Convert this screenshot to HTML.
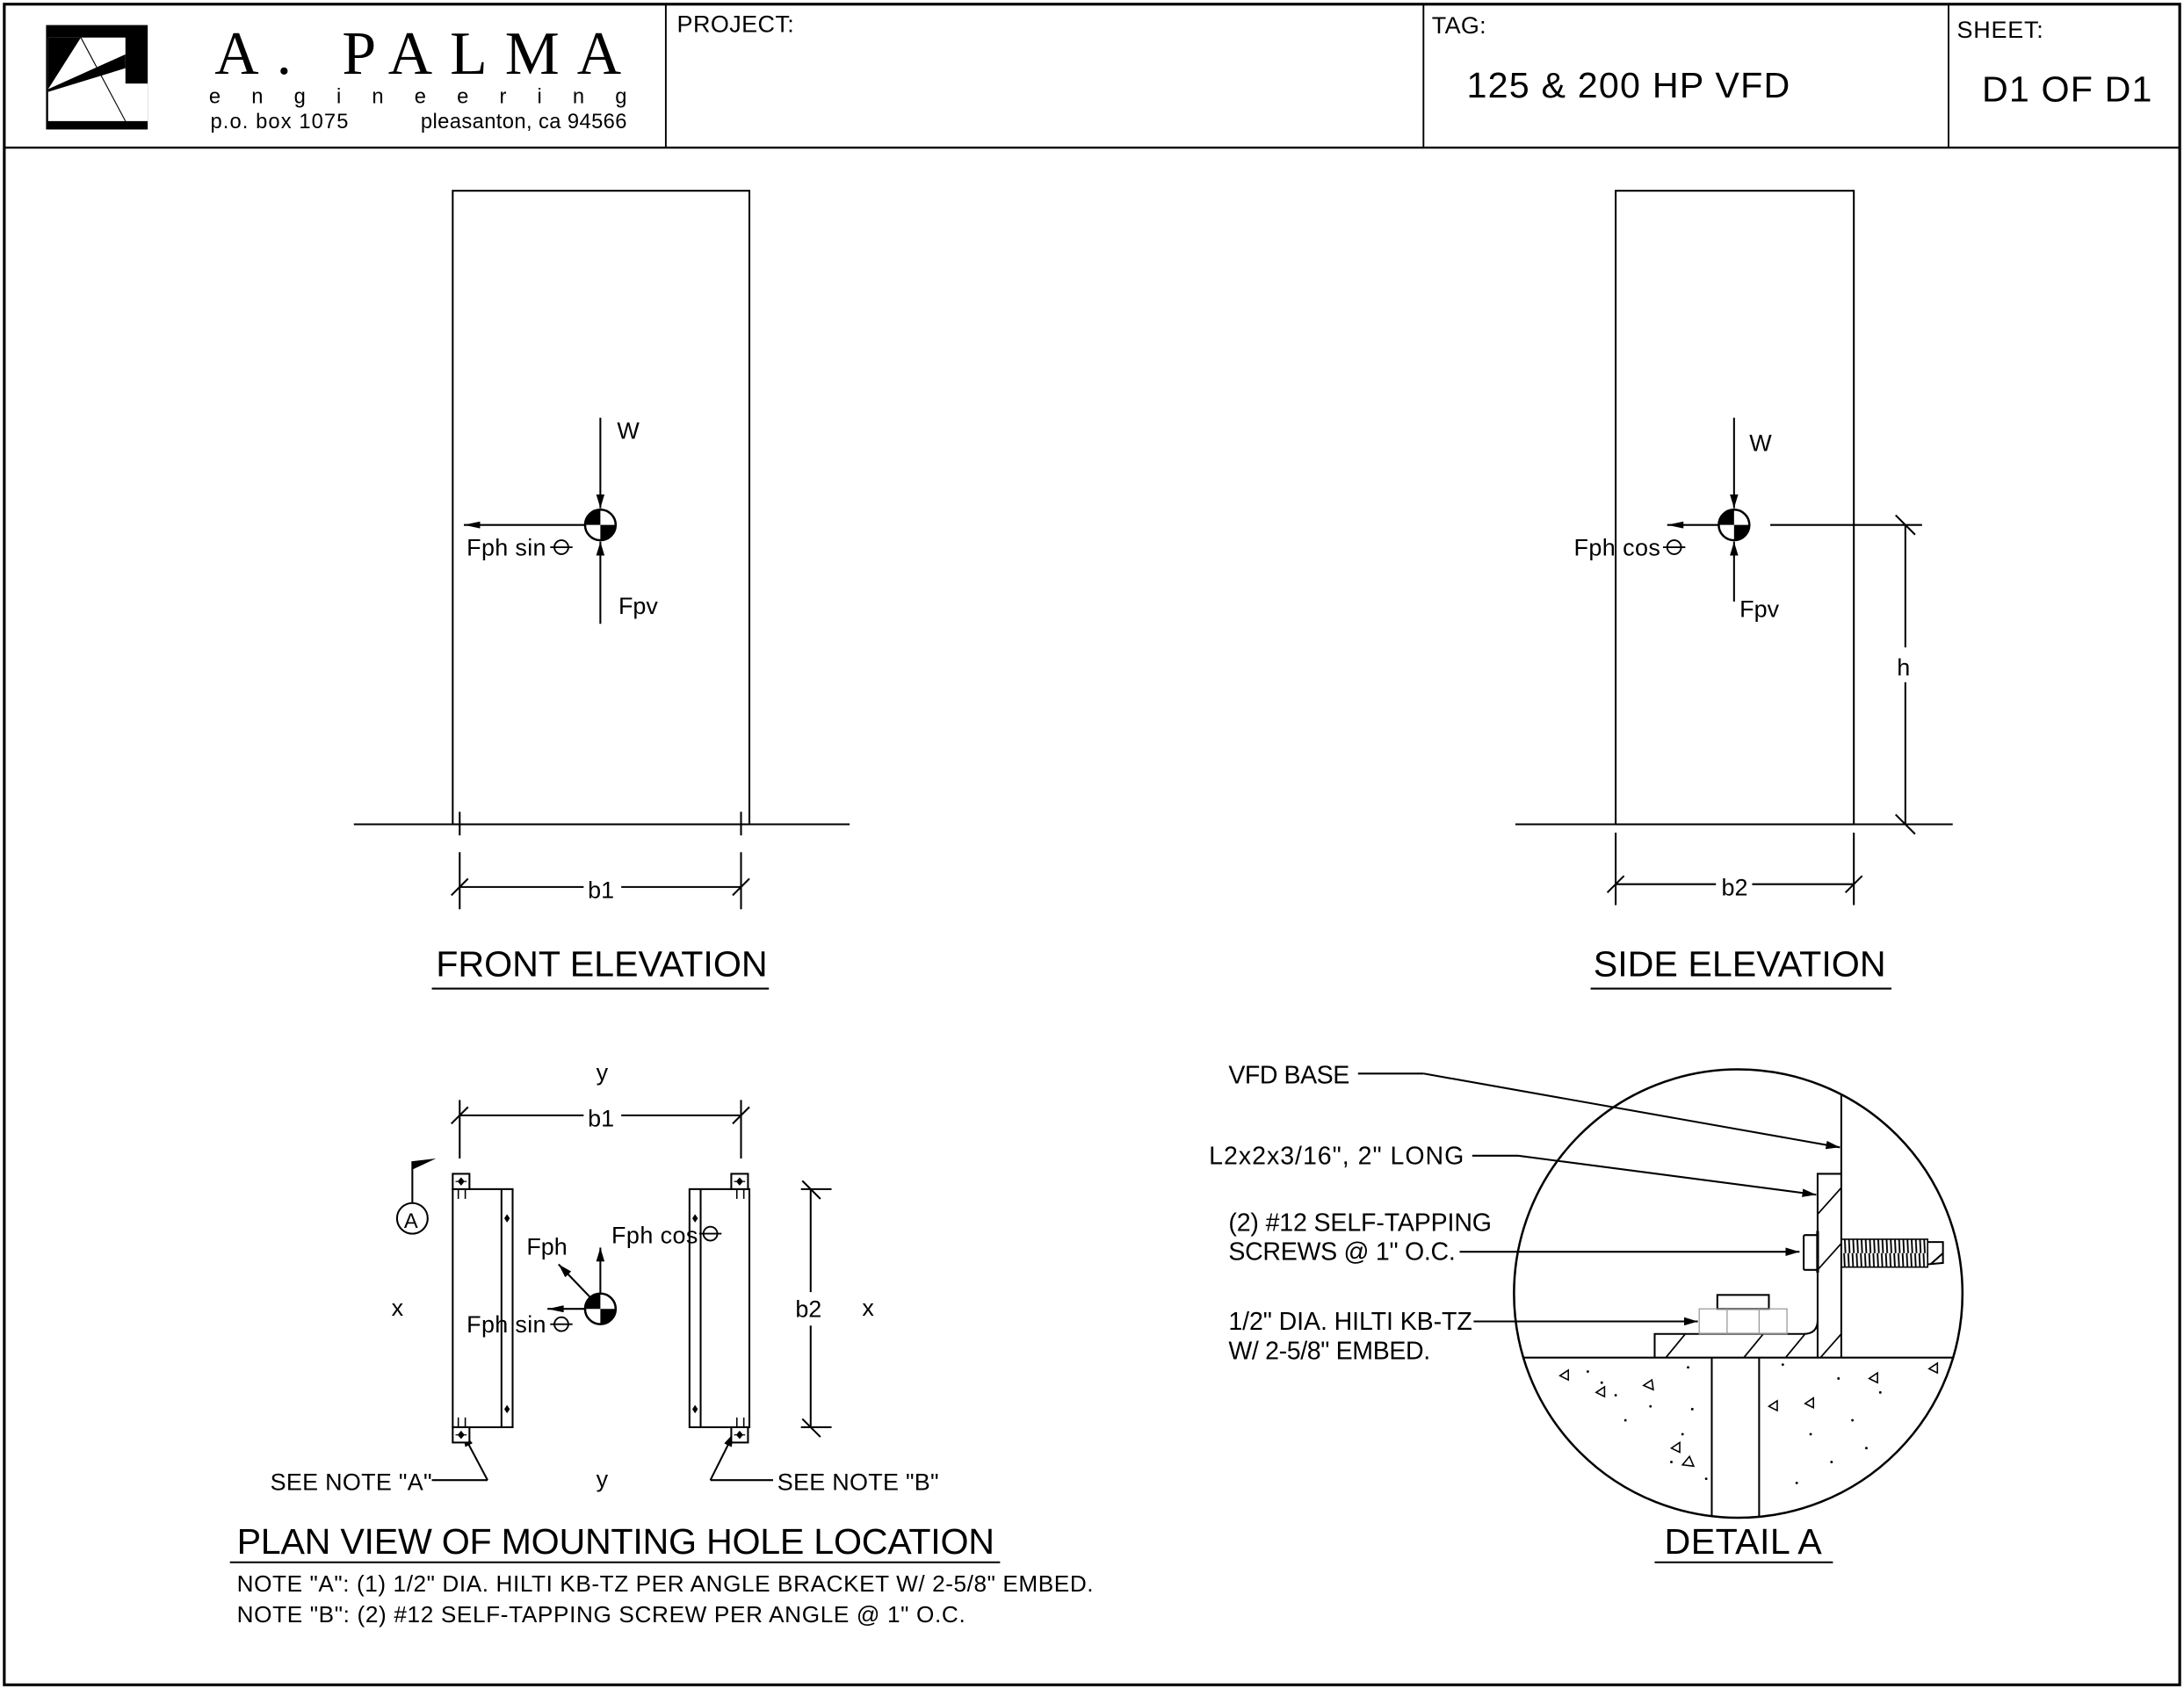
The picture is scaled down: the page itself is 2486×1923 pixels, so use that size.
<!DOCTYPE html>
<html><head><meta charset="utf-8"><style>
html,body{margin:0;padding:0;background:#fff;}
svg{display:block;}
text{font-family:"Liberation Sans",sans-serif;fill:#000;}
</style></head><body>
<svg width="2486" height="1923" viewBox="0 0 1568 1213" xmlns="http://www.w3.org/2000/svg">
<defs>
<marker id="ar" viewBox="0 0 10 6" refX="10" refY="3" markerWidth="10" markerHeight="6" markerUnits="userSpaceOnUse" orient="auto"><path d="M0,0L10,3L0,6z" fill="#000"/></marker>
<marker id="ar2" viewBox="0 0 14 6" refX="14" refY="3" markerWidth="14" markerHeight="5" markerUnits="userSpaceOnUse" orient="auto"><path d="M0,0L14,3L0,6z" fill="#000"/></marker>
<clipPath id="cc"><circle cx="1248" cy="929" r="161"/></clipPath>
<g id="cg"><circle r="11" fill="#fff" stroke="#000" stroke-width="1.6"/><path d="M0,0L-11,0A11,11 0 0 1 0,-11z M0,0L11,0A11,11 0 0 1 0,11z" fill="#000"/></g>
<g id="th"><circle r="5" fill="none" stroke="#000" stroke-width="1.2"/><line x1="-8" y1="0" x2="8" y2="0" stroke="#000" stroke-width="1.2"/></g>
<g id="sq"><rect x="0" y="0" width="12" height="11" fill="#fff" stroke="#000" stroke-width="1.3"/><path d="M6,2.5L8.5,5.5L6,8.5L3.5,5.5z" fill="#000"/><line x1="2" y1="5.5" x2="10" y2="5.5" stroke="#000" stroke-width="0.8"/></g>
<pattern id="thr" width="3" height="20" patternUnits="userSpaceOnUse"><line x1="1" y1="0" x2="2" y2="20" stroke="#000" stroke-width="1.2"/></pattern>
</defs>
<g fill="none" stroke="#000">
<rect x="3" y="3" width="1562" height="1207" stroke-width="2"/>
<line x1="3" y1="106" x2="1565" y2="106" stroke-width="1.5"/>
<line x1="478" y1="3" x2="478" y2="106" stroke-width="1.2"/>
<line x1="1022" y1="3" x2="1022" y2="106" stroke-width="1.2"/>
<line x1="1399" y1="3" x2="1399" y2="106" stroke-width="1.2"/>
</g>
<!-- logo -->
<rect x="33" y="18" width="73" height="75" fill="#000"/>
<path d="M34.5,27 L90,27 L90,60 L106,60 L106,87 L34.5,87 Z" fill="#fff"/>
<path d="M34.5,27 L58,27 L34.5,64 Z" fill="#000"/>
<path d="M34.5,64 L90,39 L90,49 L34.5,66 Z" fill="#000"/>
<line x1="58" y1="27" x2="90" y2="87" stroke="#000" stroke-width="0.7"/>
<text x="154" y="53" style="font-family:'Liberation Serif',serif" font-size="44" textLength="292" lengthAdjust="spacing">A. PALMA</text>
<text x="150" y="74" font-size="15" textLength="300" lengthAdjust="spacing">engineering</text>
<text x="151" y="92" font-size="15" textLength="99">p.o. box  1075</text>
<text x="302" y="92" font-size="15" textLength="148">pleasanton, ca 94566</text>
<text x="486" y="23" font-size="17" textLength="84">PROJECT:</text>
<text x="1028" y="24" font-size="17" textLength="39">TAG:</text>
<text x="1053" y="70" font-size="26" textLength="232">125 &amp; 200 HP VFD</text>
<text x="1405" y="27" font-size="17" textLength="62">SHEET:</text>
<text x="1423" y="73" font-size="26" textLength="122">D1 OF D1</text>

<g fill="none" stroke="#000" stroke-width="1.3">
<!-- front elevation -->
<rect x="325" y="137" width="213" height="455"/>
<line x1="254" y1="592" x2="610" y2="592"/>
<line x1="330" y1="583" x2="330" y2="600"/><line x1="330" y1="612" x2="330" y2="653"/>
<line x1="532" y1="583" x2="532" y2="600"/><line x1="532" y1="612" x2="532" y2="653"/>
<line x1="330" y1="637" x2="419" y2="637"/><line x1="446" y1="637" x2="532" y2="637"/>
<line x1="324" y1="643" x2="336" y2="631"/><line x1="526" y1="643" x2="538" y2="631"/>
<line x1="431" y1="300" x2="431" y2="365" marker-end="url(#ar)"/>
<line x1="431" y1="448" x2="431" y2="389" marker-end="url(#ar)"/>
<line x1="420" y1="377" x2="333" y2="377" marker-end="url(#ar2)"/>
<line x1="310" y1="710" x2="552" y2="710"/>
<!-- side elevation -->
<rect x="1160" y="137" width="171" height="455"/>
<line x1="1088" y1="592" x2="1402" y2="592"/>
<line x1="1160" y1="598" x2="1160" y2="650"/><line x1="1331" y1="598" x2="1331" y2="650"/>
<line x1="1160" y1="635" x2="1232" y2="635"/><line x1="1258" y1="635" x2="1331" y2="635"/>
<line x1="1154" y1="641" x2="1166" y2="629"/><line x1="1325" y1="641" x2="1337" y2="629"/>
<line x1="1245" y1="300" x2="1245" y2="365" marker-end="url(#ar)"/>
<line x1="1245" y1="432" x2="1245" y2="389" marker-end="url(#ar)"/>
<line x1="1234" y1="377" x2="1197" y2="377" marker-end="url(#ar2)"/>
<line x1="1271" y1="377" x2="1380" y2="377"/>
<line x1="1368" y1="377" x2="1368" y2="465"/><line x1="1368" y1="490" x2="1368" y2="592"/>
<line x1="1361" y1="370" x2="1375" y2="384"/><line x1="1361" y1="585" x2="1375" y2="599"/>
<line x1="1142" y1="710" x2="1358" y2="710"/>
<!-- plan view -->
<line x1="330" y1="790" x2="330" y2="832"/><line x1="532" y1="790" x2="532" y2="832"/>
<line x1="330" y1="801" x2="419" y2="801"/><line x1="446" y1="801" x2="532" y2="801"/>
<line x1="324" y1="807" x2="336" y2="795"/><line x1="526" y1="807" x2="538" y2="795"/>
<rect x="325" y="854" width="43" height="171"/><line x1="360" y1="854" x2="360" y2="1025"/>
<rect x="495" y="854" width="43" height="171"/><line x1="503" y1="854" x2="503" y2="1025"/>
<g stroke-width="1"><line x1="329" y1="854" x2="329" y2="861"/><line x1="334" y1="854" x2="334" y2="861"/><line x1="329" y1="1018" x2="329" y2="1025"/><line x1="334" y1="1018" x2="334" y2="1025"/>
<line x1="529" y1="854" x2="529" y2="861"/><line x1="534" y1="854" x2="534" y2="861"/><line x1="529" y1="1018" x2="529" y2="1025"/><line x1="534" y1="1018" x2="534" y2="1025"/></g>
<line x1="575" y1="854" x2="597" y2="854"/><line x1="575" y1="1025" x2="597" y2="1025"/>
<line x1="582" y1="854" x2="582" y2="928"/><line x1="582" y1="952" x2="582" y2="1025"/>
<line x1="576" y1="848" x2="589" y2="861"/><line x1="576" y1="1019" x2="589" y2="1032"/>
<line x1="431" y1="929" x2="431" y2="896" marker-end="url(#ar)"/>
<line x1="424" y1="932" x2="401" y2="908" marker-end="url(#ar)"/>
<line x1="420" y1="940" x2="393" y2="940" marker-end="url(#ar2)"/>
<circle cx="296" cy="875" r="11"/>
<line x1="296" y1="864" x2="296" y2="834"/>
<line x1="310" y1="1063" x2="350" y2="1063"/><line x1="350" y1="1063" x2="332" y2="1029" marker-end="url(#ar)"/>
<line x1="555" y1="1063" x2="510" y2="1063"/><line x1="510" y1="1063" x2="527" y2="1029" marker-end="url(#ar)"/>
<line x1="165" y1="1122" x2="718" y2="1122"/>
<line x1="1188" y1="1122" x2="1316" y2="1122"/>
</g>
<use href="#sq" x="325" y="843"/><use href="#sq" x="325" y="1025"/><use href="#sq" x="525" y="843"/><use href="#sq" x="525" y="1025"/>
<g fill="#000"><path d="M364,872l2,3l-2,3l-2,-3z M364,1009l2,3l-2,3l-2,-3z M499,872l2,3l-2,3l-2,-3z M499,1009l2,3l-2,3l-2,-3z"/></g>
<path d="M296,834 L313,832 L296,840Z" fill="#000"/>
<use href="#cg" x="431" y="377"/><use href="#cg" x="1245" y="377"/><use href="#cg" x="431" y="940"/>
<use href="#th" x="403" y="393"/><use href="#th" x="1202" y="393"/><use href="#th" x="510" y="886"/><use href="#th" x="403" y="951"/>
<g font-size="17">
<text x="443" y="315">W</text><text x="444" y="441">Fpv</text><text x="335" y="399" textLength="57">Fph sin</text>
<text x="1256" y="324">W</text><text x="1249" y="443">Fpv</text><text x="1130" y="399" textLength="62">Fph cos</text>
<text x="1362" y="485">h</text>
<text x="422" y="645">b1</text><text x="1236" y="643">b2</text>
<text x="428" y="776">y</text><text x="422" y="809">b1</text>
<text x="378" y="901">Fph</text><text x="439" y="893" textLength="62">Fph cos</text>
<text x="335" y="957" textLength="57">Fph sin</text>
<text x="281" y="945">x</text><text x="619" y="945">x</text>
<text x="571" y="946">b2</text><text x="428" y="1068">y</text>
<text x="290" y="882" font-size="15">A</text>
<text x="194" y="1070" textLength="116">SEE NOTE "A"</text><text x="558" y="1070" textLength="116">SEE NOTE "B"</text>
</g>
<g font-size="18">
<text x="882" y="778" textLength="87">VFD BASE</text>
<text x="868" y="836" textLength="183">L2x2x3/16", 2" LONG</text>
<text x="882" y="884" textLength="189">(2) #12 SELF-TAPPING</text><text x="882" y="905" textLength="163">SCREWS @ 1" O.C.</text>
<text x="882" y="955" textLength="175">1/2" DIA. HILTI KB-TZ</text><text x="882" y="976" textLength="145">W/ 2-5/8" EMBED.</text>
</g>
<text x="313" y="701" font-size="26" textLength="238">FRONT ELEVATION</text>
<text x="1144" y="701" font-size="26" textLength="210">SIDE ELEVATION</text>
<text x="170" y="1116" font-size="26" textLength="544">PLAN VIEW OF MOUNTING HOLE LOCATION</text>
<text x="1195" y="1116" font-size="26" textLength="113">DETAIL A</text>
<text x="170" y="1143" font-size="16.5" textLength="615">NOTE "A": (1) 1/2" DIA. HILTI KB-TZ PER ANGLE BRACKET W/ 2-5/8" EMBED.</text>
<text x="170" y="1165" font-size="16.5" textLength="523">NOTE "B": (2) #12 SELF-TAPPING SCREW PER ANGLE @ 1" O.C.</text>
<!-- detail A -->
<g fill="none" stroke="#000" stroke-width="1.3">
<line x1="975" y1="771" x2="1022" y2="771"/><line x1="1022" y1="771" x2="1321" y2="824" marker-end="url(#ar)"/>
<line x1="1057" y1="830" x2="1090" y2="830"/><line x1="1090" y1="830" x2="1304" y2="858" marker-end="url(#ar)"/>
<line x1="1048" y1="899" x2="1292" y2="899" marker-end="url(#ar)"/>
<line x1="1058" y1="949" x2="1219" y2="949" marker-end="url(#ar)"/>
<g clip-path="url(#cc)">
<line x1="1322" y1="760" x2="1322" y2="975"/>
<line x1="1080" y1="975" x2="1420" y2="975"/>
<path d="M1305,975 L1305,843 L1322,843 M1305,843 L1305,948 Q1305,958 1295,958 L1188,958 L1188,975"/>
<line x1="1229" y1="975" x2="1229" y2="1100"/><line x1="1263" y1="975" x2="1263" y2="1100"/>
<g stroke-width="1.1"><line x1="1196" y1="975" x2="1210" y2="958"/><line x1="1252" y1="975" x2="1266" y2="958"/><line x1="1282" y1="975" x2="1296" y2="958"/><line x1="1307" y1="975" x2="1322" y2="958"/><line x1="1305" y1="872" x2="1322" y2="853"/><line x1="1305" y1="912" x2="1322" y2="893"/></g>
<rect x="1233" y="930" width="37" height="10"/>
<rect x="1220" y="940" width="63" height="18" stroke="#999" stroke-width="0.8"/>
<line x1="1240" y1="940" x2="1240" y2="958" stroke="#999" stroke-width="0.8"/><line x1="1263" y1="940" x2="1263" y2="958" stroke="#999" stroke-width="0.8"/>
<rect x="1295" y="887" width="10" height="25" rx="1"/>
<line x1="1305" y1="884" x2="1305" y2="914" stroke-width="2"/>
<rect x="1322" y="890" width="62" height="20" fill="url(#thr)" stroke-width="1"/>
<path d="M1384,892 L1395,892 L1395,907 L1384,908 M1386,908 L1395,900"/>
</g>
<circle cx="1248" cy="929" r="161" stroke-width="1.6"/>
</g>
<g clip-path="url(#cc)" fill="#000">
<circle cx="1150" cy="993" r="0.9"/><circle cx="1212" cy="982" r="0.9"/><circle cx="1208" cy="1030" r="0.9"/><circle cx="1167" cy="1020" r="0.9"/><circle cx="1200" cy="1050" r="0.9"/><circle cx="1280" cy="980" r="0.9"/><circle cx="1300" cy="1030" r="0.9"/><circle cx="1330" cy="1020" r="0.9"/><circle cx="1350" cy="1000" r="0.9"/><circle cx="1290" cy="1065" r="0.9"/><circle cx="1160" cy="1002" r="0.9"/><circle cx="1185" cy="1010" r="0.9"/><circle cx="1140" cy="985" r="0.9"/><circle cx="1215" cy="1012" r="0.9"/><circle cx="1315" cy="1050" r="0.9"/><circle cx="1340" cy="1040" r="0.9"/><circle cx="1225" cy="1062" r="0.9"/><circle cx="1320" cy="990" r="0.9"/>
</g>
<g clip-path="url(#cc)" fill="none" stroke="#000" stroke-width="1">
<path d="M1120,988 l6,-4 l0,7z M1146,1000 l6,-4 l0,7z M1180,995 l6,-4 l1,7z M1200,1040 l6,-4 l0,7z M1208,1052 l5,-6 l3,7z M1270,1010 l6,-4 l0,7z M1296,1008 l6,-4 l0,7z M1342,990 l6,-4 l0,7z M1385,983 l6,-4 l0,7z"/>
</g>
</svg>
</body></html>
